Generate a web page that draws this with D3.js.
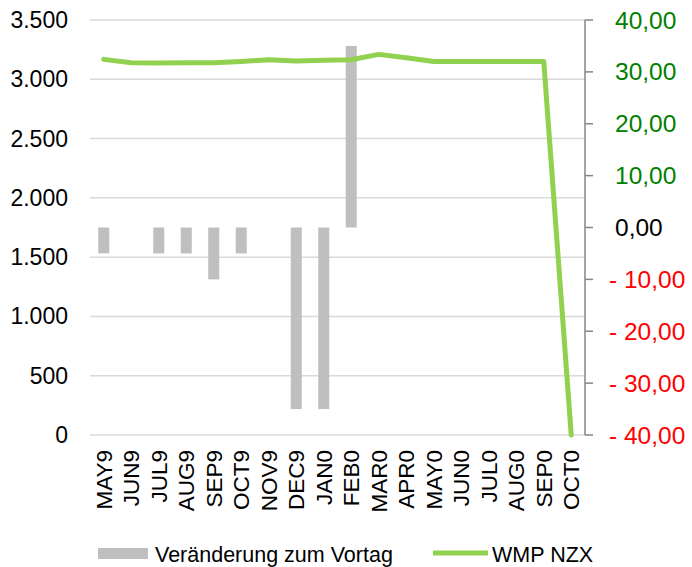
<!DOCTYPE html>
<html>
<head>
<meta charset="utf-8">
<script src="https://cdn.jsdelivr.net/npm/d3@7"></script>
<style>
  body { margin: 0; background: #fff; }
  svg text { font-family: "Liberation Sans", Arial, sans-serif; }
</style>
</head>
<body>
<div id="chart"></div>
<script>
// categories
const months = ["MAY9", "JUN9", "JUL9", "AUG9", "SEP9", "OCT9", "NOV9", "DEC9", "JAN0",
  "FEB0", "MAR0", "APR0", "MAY0", "JUN0", "JUL0", "AUG0", "SEP0", "OCT0"];
// WMP NZX (left axis)
const wmpValues = [3168, 3140, 3138, 3140, 3140, 3150, 3165, 3155, 3160,
  3165, 3210, 3182, 3150, 3150, 3150, 3150, 3150, 0];
// change vs previous day (right axis)
const changeValues = [-5, 0, -5, -5, -10, -5, 0, -35, -35,
  35, 0, 0, 0, 0, 0, 0, 0, 0];
const leftTicks = [0, 500, 1000, 1500, 2000, 2500, 3000, 3500];
const rightTicks = [-40, -30, -20, -10, 0, 10, 20, 30, 40];

const W = 692, H = 567;
const margin = { top: 20, right: 107, bottom: 132, left: 90 };
const width = W - margin.left - margin.right;
const height = H - margin.top - margin.bottom;

const svg = d3.select("#chart").append("svg")
  .attr("width", W).attr("height", H);
const g = svg.append("g").attr("transform", `translate(${margin.left},${margin.top})`);

const x = d3.scaleBand().domain(months).range([0, width]);
const yL = d3.scaleLinear().domain([0, 3500]).range([height, 0]);
const yR = d3.scaleLinear().domain([-40, 40]).range([height, 0]);

// gridlines
g.append("g").selectAll("line").data(leftTicks).join("line")
  .attr("x1", 0).attr("x2", width)
  .attr("y1", d => yL(d)).attr("y2", d => yL(d))
  .attr("stroke", "#d9d9d9").attr("stroke-width", 1.5);

// left axis labels
const fmtL = d3.formatLocale({ decimal: ",", thousands: ".", grouping: [3], currency: ["", ""] }).format(",d");
g.append("g").selectAll("text").data(leftTicks).join("text")
  .attr("x", -22).attr("y", d => yL(d)).attr("dy", "0.35em")
  .attr("text-anchor", "end").attr("font-size", 23).attr("fill", "#000")
  .text(d => fmtL(d));

// bars
const barW = 11;
g.append("g").selectAll("rect").data(changeValues.map((v, i) => ({ m: months[i], v })).filter(d => d.v !== 0))
  .join("rect")
  .attr("x", d => x(d.m) + x.bandwidth() / 2 - barW / 2)
  .attr("width", barW)
  .attr("y", d => yR(Math.max(0, d.v)))
  .attr("height", d => Math.abs(yR(d.v) - yR(0)))
  .attr("fill", "#bfbfbf");

// line
const line = d3.line()
  .x((d, i) => x(months[i]) + x.bandwidth() / 2)
  .y(d => yL(d));
g.append("path").datum(wmpValues)
  .attr("d", line)
  .attr("fill", "none").attr("stroke", "#92d050")
  .attr("stroke-width", 5).attr("stroke-linejoin", "round").attr("stroke-linecap", "round");

// right axis
const rAxis = g.append("g").attr("transform", `translate(${width},0)`);
rAxis.append("line").attr("y1", 0).attr("y2", height).attr("stroke", "#868686").attr("stroke-width", 1.5);
rAxis.selectAll(".tick").data(rightTicks).join("line")
  .attr("x1", 0).attr("x2", 8).attr("y1", d => yR(d)).attr("y2", d => yR(d))
  .attr("stroke", "#868686").attr("stroke-width", 1.5);
const fmtR = v => {
  const s = Math.abs(v).toFixed(2).replace(".", ",");
  return v < 0 ? "- " + s : s;
};
rAxis.selectAll("text").data(rightTicks).join("text")
  .attr("x", d => d < 0 ? 24 : 30).attr("y", d => yR(d)).attr("dy", "0.35em")
  .attr("font-size", 24.5)
  .attr("fill", d => d > 0 ? "#008000" : d < 0 ? "#ff0000" : "#000")
  .text(d => fmtR(d));

// x labels
g.append("g").selectAll("text").data(months).join("text")
  .attr("transform", d => `translate(${x(d) + x.bandwidth() / 2},${height + 15}) rotate(-90)`)
  .attr("dy", "0.35em").attr("text-anchor", "end")
  .attr("font-size", 22.5).attr("fill", "#000")
  .text(d => d);

// legend
const leg = svg.append("g");
leg.append("rect").attr("x", 98).attr("y", 548).attr("width", 50).attr("height", 11).attr("fill", "#bfbfbf");
leg.append("text").attr("x", 155).attr("y", 554).attr("dy", "0.35em")
  .attr("font-size", 21.5).text("Veränderung zum Vortag");
leg.append("line").attr("x1", 433).attr("x2", 488).attr("y1", 553).attr("y2", 553)
  .attr("stroke", "#92d050").attr("stroke-width", 5);
leg.append("text").attr("x", 492).attr("y", 554).attr("dy", "0.35em")
  .attr("font-size", 21.5).text("WMP NZX");
</script>
</body>
</html>
